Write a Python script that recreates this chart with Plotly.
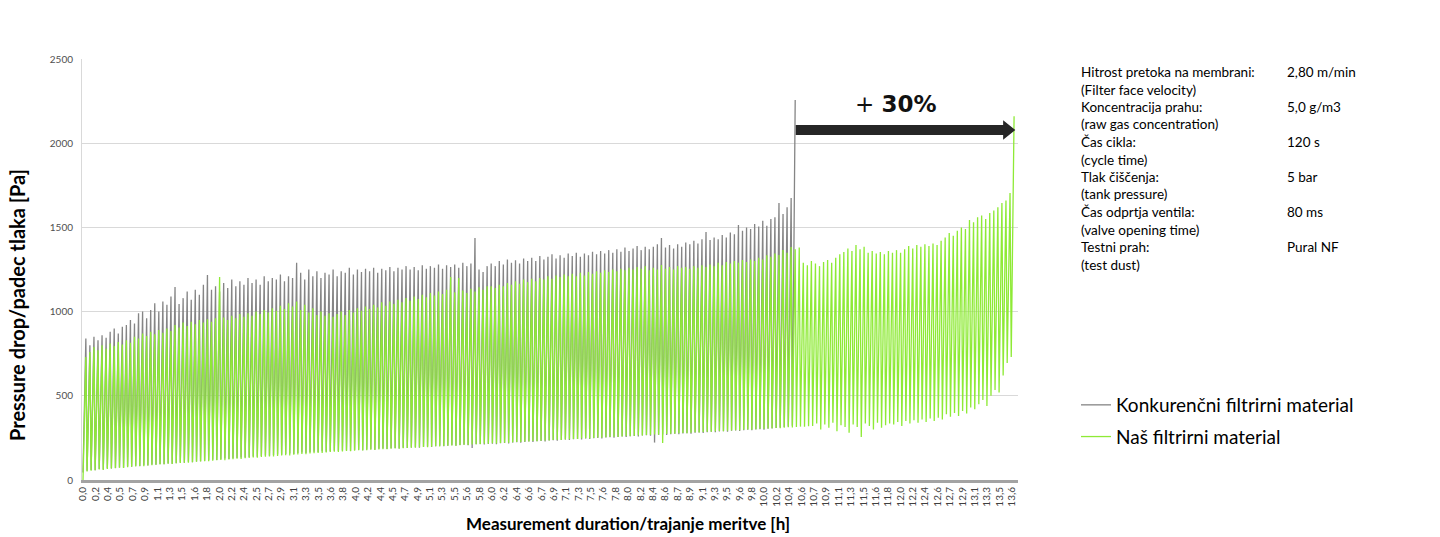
import plotly.graph_objects as go

# ---------------- data ----------------
CYCLE_H = 0.06          # spacing of drawn filtration cycles [h]
TICK_STEP_H = 11 / 60   # spacing of category labels on the x axis [h]

series_names = ["Konkurenčni filtrirni material", "Naš filtrirni material"]

# competitor material: peak / trough pressure drop of each cycle [Pa]
gray_peaks = [
    840, 800, 850, 830, 860, 845, 880, 900, 870, 910,
    920, 950, 930, 990, 1000, 960, 1010, 1050, 1000, 1060,
    1040, 1090, 1146, 1045, 1080, 1120, 1070, 1130, 1100, 1160,
    1217, 1130, 1150, 1120, 1170, 1140, 1190, 1150, 1180, 1160,
    1200, 1170, 1190, 1160, 1210, 1180, 1200, 1190, 1220, 1180,
    1210, 1200, 1290, 1230, 1190, 1250, 1210, 1240, 1200, 1230,
    1220, 1250, 1210, 1240, 1230, 1260, 1220, 1250, 1235, 1255,
    1240, 1260, 1230, 1255, 1245, 1265, 1240, 1260, 1250, 1270,
    1250, 1265, 1245, 1275, 1255, 1270, 1260, 1280, 1255, 1275,
    1265, 1280, 1260, 1290, 1270, 1285, 1437, 1250, 1235, 1270,
    1285, 1270, 1300, 1280, 1310, 1290, 1305, 1285, 1315, 1300,
    1320, 1300, 1330, 1310, 1325, 1340, 1315, 1335, 1320, 1345,
    1330, 1350, 1325, 1345, 1335, 1355, 1340, 1360, 1345, 1365,
    1350, 1370, 1355, 1380, 1360, 1375, 1390, 1365, 1385, 1370,
    1385, 1400, 1437, 1380, 1395, 1375, 1400, 1385, 1410, 1400,
    1420, 1405, 1430, 1473, 1425, 1440, 1430, 1455, 1440, 1470,
    1460, 1514, 1480, 1500, 1490, 1520, 1505, 1540, 1510, 1550,
    1560, 1645, 1580, 1620, 1675, 2257,
]
gray_troughs = [
    45, 55, 60, 58, 65, 62, 70, 68, 72, 75,
    74, 80, 78, 85, 82, 88, 86, 92, 90, 95,
    93, 98, 96, 100, 104, 102, 108, 106, 110, 112,
    115, 118, 121, 119, 124, 127, 125, 129, 131, 134,
    133, 137, 140, 138, 143, 146, 144, 149, 152, 150,
    154, 157, 155, 160, 163, 161, 165, 168, 166, 170,
    168, 171, 174, 172, 175, 177, 174, 178, 180, 177,
    181, 183, 180, 185, 187, 184, 188, 190, 187, 192,
    190, 193, 195, 192, 197, 199, 196, 201, 203, 200,
    204, 206, 203, 208, 210, 207, 190, 212, 214, 211,
    214, 216, 213, 218, 220, 217, 222, 224, 221, 226,
    228, 225, 230, 232, 229, 234, 236, 233, 238, 240,
    237, 242, 244, 241, 246, 243, 248, 250, 247, 252,
    254, 251, 256, 258, 255, 260, 262, 259, 264, 266,
    263, 222, 268, 270, 267, 272, 274, 271, 276, 278,
    275, 280, 282, 279, 284, 286, 283, 288, 290, 287,
    292, 294, 291, 296, 298, 295, 300, 302, 299, 304,
    306, 309, 312, 315, 318, 322,
]

# our material: peak / trough pressure drop of each cycle [Pa]
green_peaks = [
    730, 760, 790, 770, 800, 780, 810, 795, 820, 805,
    830, 815, 850, 840, 870, 855, 880, 865, 890, 875,
    900, 885, 920, 905, 935, 915, 940, 925, 950, 935,
    955, 940, 960, 1205, 965, 950, 975, 960, 985, 970,
    990, 975, 1000, 985, 1010, 995, 1020, 1005, 1035, 1015,
    1050, 1030, 1060, 1010, 1040, 995, 1020, 980, 1000, 975,
    990, 970, 985, 1000, 980, 1010, 995, 1020, 1005, 1030,
    1015, 1040, 1025, 1055, 1035, 1060, 1045, 1070, 1055, 1080,
    1065, 1090, 1075, 1100, 1085, 1110, 1095, 1120, 1105, 1130,
    1205, 1115, 1200, 1125, 1110, 1135, 1120, 1145, 1130, 1150,
    1150, 1140, 1160, 1150, 1170, 1160, 1180, 1165, 1190, 1175,
    1195, 1180, 1200, 1190, 1210, 1195, 1215, 1205, 1220, 1210,
    1225, 1210, 1230, 1215, 1235, 1225, 1240, 1230, 1245, 1235,
    1250, 1240, 1255, 1245, 1260, 1250, 1265, 1255, 1270, 1245,
    1260, 1250, 1277, 1255, 1265, 1250, 1270, 1260, 1265, 1255,
    1270, 1260, 1275, 1265, 1280, 1270, 1290, 1275, 1295, 1285,
    1300, 1290, 1306, 1295, 1310, 1300, 1320, 1310, 1335, 1325,
    1345, 1336, 1366, 1350, 1384, 1370, 1380, 1290, 1275, 1300,
    1285, 1270, 1295, 1306, 1290, 1320, 1340, 1354, 1375, 1360,
    1395, 1370, 1385, 1350, 1360, 1345, 1354, 1340, 1360, 1350,
    1365, 1350, 1370, 1390, 1375, 1395, 1385, 1400, 1390, 1405,
    1395, 1420, 1440, 1467, 1450, 1480, 1500, 1490, 1544, 1530,
    1560, 1570, 1550, 1585, 1600, 1620, 1645, 1660, 1704, 2160,
]
green_troughs = [
    0, 50, 55, 58, 62, 60, 66, 68, 70, 73,
    72, 76, 78, 80, 83, 82, 86, 88, 90, 92,
    94, 96, 95, 99, 101, 103, 102, 106, 108, 110,
    112, 111, 115, 117, 119, 118, 122, 124, 126, 125,
    129, 131, 133, 132, 136, 138, 140, 139, 143, 145,
    147, 146, 150, 152, 154, 153, 157, 159, 161, 160,
    164, 166, 168, 167, 170, 172, 171, 174, 176, 175,
    177, 179, 178, 181, 183, 182, 185, 187, 186, 189,
    190, 192, 191, 194, 196, 195, 198, 200, 199, 202,
    203, 205, 204, 207, 209, 208, 211, 213, 212, 215,
    216, 218, 217, 220, 222, 221, 224, 226, 225, 228,
    229, 231, 230, 233, 235, 234, 237, 239, 238, 241,
    242, 244, 243, 246, 248, 247, 250, 252, 251, 254,
    255, 257, 256, 259, 261, 260, 263, 265, 264, 267,
    268, 270, 269, 220, 273, 275, 274, 277, 279, 278,
    281, 283, 282, 285, 287, 286, 289, 291, 290, 293,
    294, 296, 295, 298, 300, 299, 302, 304, 303, 306,
    307, 309, 308, 311, 313, 312, 315, 317, 316, 319,
    320, 335, 300, 330, 310, 340, 290, 325, 315, 280,
    330, 315, 255, 335, 320, 300, 340, 310, 325, 335,
    330, 345, 320, 350, 335, 355, 340, 360, 345, 365,
    350, 370, 360, 390, 375, 398, 380, 410, 395, 430,
    420, 450, 475, 440, 500, 535, 520, 620, 695, 730,
]

x_tick_labels = [
    "0,0", "0,2", "0,4", "0,5", "0,7", "0,9", "1,1", "1,3", "1,5", "1,6",
    "1,8", "2,0", "2,2", "2,4", "2,5", "2,7", "2,9", "3,1", "3,3", "3,5",
    "3,6", "3,8", "4,0", "4,2", "4,4", "4,5", "4,7", "4,9", "5,1", "5,3",
    "5,5", "5,6", "5,8", "6,0", "6,2", "6,4", "6,6", "6,7", "6,9", "7,1",
    "7,3", "7,5", "7,6", "7,8", "8,0", "8,2", "8,4", "8,6", "8,7", "8,9",
    "9,1", "9,3", "9,5", "9,6", "9,8", "10,0", "10,2", "10,4", "10,6", "10,7",
    "10,9", "11,1", "11,3", "11,5", "11,6", "11,8", "12,0", "12,2", "12,4", "12,6",
    "12,7", "12,9", "13,1", "13,3", "13,5", "13,6",
]

param_names = [
    "Hitrost pretoka na membrani:", "(Filter face velocity)",
    "Koncentracija prahu:", "(raw gas concentration)",
    "Čas cikla:", "(cycle time)",
    "Tlak čiščenja:", "(tank pressure)",
    "Čas odprtja ventila:", "(valve opening time)",
    "Testni prah:", "(test dust)",
]
param_values = ["2,80 m/min", "", "5,0 g/m3", "", "120 s", "", "5 bar", "", "80 ms", "", "Pural NF", ""]

increase_label = "+ <b>30%</b>"

# ---------------- figure ----------------
W, H = 1440, 537
L, R, T, B = 82, 422, 59, 57
PW, PH = W - L - R, H - T - B
FONT = "Lato"


def px_x(p):
    return (p - L) / PW


def px_y(p):
    return (H - B - p) / PH


def sawtooth(troughs, peaks):
    xs, ys = [], []
    for k, (lo, hi) in enumerate(zip(troughs, peaks)):
        xs += [k * CYCLE_H, (k + 0.7) * CYCLE_H]
        ys += [lo, hi]
    return xs, ys


gx, gy = sawtooth(gray_troughs, gray_peaks)
nx, ny = sawtooth(green_troughs, green_peaks)

fig = go.Figure()
fig.add_trace(go.Scatter(x=gx, y=gy, mode="lines", name=series_names[0],
                         line=dict(color="#858585", width=1.3), legendgroup="a"))
fig.add_trace(go.Scatter(x=nx, y=ny, mode="lines", name=series_names[1],
                         line=dict(color="#8eea36", width=1.3), legendgroup="b"))

tickvals = [i * TICK_STEP_H for i in range(len(x_tick_labels))]

fig.update_layout(
    width=W, height=H,
    margin=dict(l=L, r=R, t=T, b=B),
    paper_bgcolor="white", plot_bgcolor="white",
    font=dict(family=FONT, color="#000000"),
    showlegend=True,
    legend=dict(x=px_x(1076), y=px_y(386), xanchor="left", yanchor="top",
                font=dict(size=19, family=FONT, color="#000"),
                itemwidth=30, tracegroupgap=4, traceorder="grouped",
                bgcolor="rgba(0,0,0,0)"),
    xaxis=dict(range=[-0.015, 13.84], tickmode="array", tickvals=tickvals,
               ticktext=x_tick_labels, tickangle=-90,
               tickfont=dict(size=10, color="#404040", family=FONT),
               showgrid=False, zeroline=False, showline=True,
               linecolor="#a3a3a3", linewidth=3, ticks=""),
    yaxis=dict(range=[0, 2500], dtick=500, tickfont=dict(size=10, color="#505050", family=FONT),
               showgrid=True, gridcolor="#d9d9d9", gridwidth=1, zeroline=False,
               showline=True, linecolor="#d9d9d9", linewidth=1, ticks="",
               ticklabelstandoff=6),
)

annotations = [
    dict(text="<b>Pressure drop/padec tlaka [Pa]</b>", xref="paper", yref="paper",
         x=px_x(17), y=px_y(305), textangle=-90, showarrow=False,
         xanchor="center", yanchor="middle", font=dict(size=20, family=FONT)),
    dict(text="<b>Measurement duration/trajanje meritve [h]</b>", xref="paper", yref="paper",
         x=px_x(628), y=px_y(523), showarrow=False,
         xanchor="center", yanchor="middle", font=dict(size=17, family=FONT)),
    dict(text=increase_label, xref="paper", yref="paper", x=px_x(896), y=px_y(104),
         showarrow=False, xanchor="center", yanchor="middle",
         font=dict(size=23, family="DejaVu Sans", color="#111")),
]
for i, (nm, val) in enumerate(zip(param_names, param_values)):
    yy = px_y(72 + i * 17.5)
    annotations.append(dict(text=nm, xref="paper", yref="paper", x=px_x(1079), y=yy,
                            showarrow=False, xanchor="left", yanchor="middle",
                            font=dict(size=13.5, family=FONT, color="#000")))
    if val:
        annotations.append(dict(text=val, xref="paper", yref="paper", x=px_x(1285), y=yy,
                                showarrow=False, xanchor="left", yanchor="middle",
                                font=dict(size=13.5, family=FONT, color="#000")))
fig.update_layout(annotations=annotations)

# "+30 %" arrow pointing from the competitor's end of life to ours
fig.add_shape(type="path", xref="x", yref="y",
              path="M 10.55 2049 L 13.62 2049 L 13.62 2020 L 13.80 2078 L 13.62 2136 L 13.62 2108 L 10.55 2108 Z",
              fillcolor="#262626", line=dict(width=0))

fig.write_html("out.html", config={"displayModeBar": False},
               post_script="document.body.style.margin='0';document.body.style.overflow='hidden';")
